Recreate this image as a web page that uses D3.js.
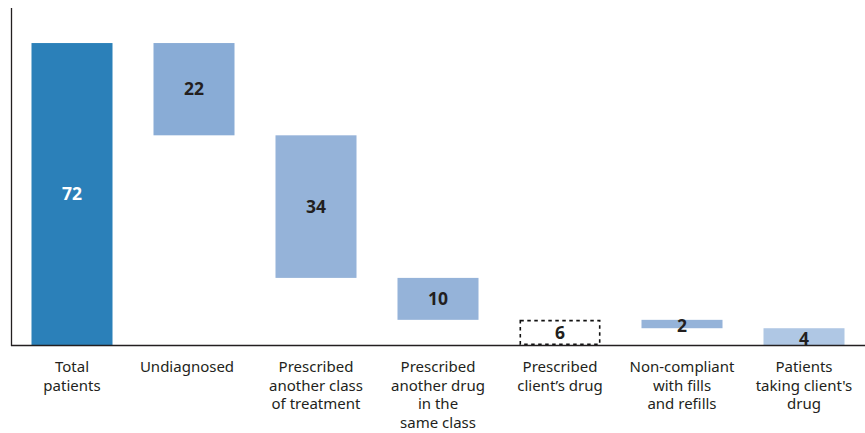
<!DOCTYPE html>
<html>
<head>
<meta charset="utf-8">
<script src="https://cdn.jsdelivr.net/npm/d3@7"></script>
<style>
  body { margin: 0; background: #fff; }
  svg { display: block; }
</style>
</head>
<body>
<svg id="chart" width="865" height="433"></svg>
<script>
const categories = [
  ["Total", "patients"],
  ["Undiagnosed"],
  ["Prescribed", "another class", "of treatment"],
  ["Prescribed", "another drug", "in the", "same class"],
  ["Prescribed", "client\u2019s drug"],
  ["Non-compliant", "with fills", "and refills"],
  ["Patients", "taking client's", "drug"]
];
const values = [72, 22, 34, 10, 6, 2, 4];
const bases = [0, 50, 16, 6, 0, 4, 0];
const kinds = ["total", "step", "step", "step", "dashed", "step", "final"];
const stepFills = ["#2b80b9", "#89acd6", "#95b3d9", "#95b3d9", "none", "#95b3d9", "#afc7e4"];

const svg = d3.select("#chart");
const ids = categories.map((d, i) => i);
const x = d3.scaleBand().domain(ids).range([11, 865]).paddingInner(0.336).paddingOuter(0.168);
const y = d3.scaleLinear().domain([0, 80]).range([345, 9.5]);

// bars
ids.forEach(i => {
  const top = y(bases[i] + values[i]);
  const bot = y(bases[i]);
  const r = svg.append("rect")
    .attr("x", x(i)).attr("width", x.bandwidth())
    .attr("y", top).attr("height", bot - top);
  if (kinds[i] === "dashed") {
    r.attr("fill", "none").attr("stroke", "#111").attr("stroke-width", 1.6)
     .attr("stroke-dasharray", "3.5,3.5")
     .attr("x", x(i) + 0.8).attr("width", x.bandwidth() - 1.6)
     .attr("y", top + 0.8).attr("height", bot - top - 1.6);
  } else {
    r.attr("fill", stepFills[i]);
  }
  svg.append("text")
    .attr("x", x(i) + x.bandwidth() / 2)
    .attr("y", (top + bot) / 2 + (values[i] < 5 ? 2 : 0))
    .attr("dy", "0.36em")
    .attr("text-anchor", "middle")
    .attr("font-family", "'Noto Sans', 'Open Sans', sans-serif")
    .attr("font-weight", "bold")
    .attr("font-size", 17.5)
    .attr("fill", i === 0 ? "#ffffff" : "#231f20")
    .text(values[i]);
});

// axes
svg.append("line").attr("x1", 11.5).attr("x2", 11.5).attr("y1", 8).attr("y2", 346)
  .attr("stroke", "#231f20").attr("stroke-width", 1.3);
svg.append("line").attr("x1", 11).attr("x2", 865).attr("y1", 345.5).attr("y2", 345.5)
  .attr("stroke", "#231f20").attr("stroke-width", 1.3);

// category labels
ids.forEach(i => {
  const t = svg.append("text")
    .attr("text-anchor", "middle")
    .attr("font-family", "'Noto Sans', 'Open Sans', sans-serif")
    .attr("font-size", 15)
    .attr("fill", "#231f20");
  categories[i].forEach((line, k) => {
    t.append("tspan")
      .attr("x", x(i) + x.bandwidth() / 2 + (i === 1 ? -7 : 0))
      .attr("y", 372 + k * 18.7)
      .text(line);
  });
});
</script>
</body>
</html>
